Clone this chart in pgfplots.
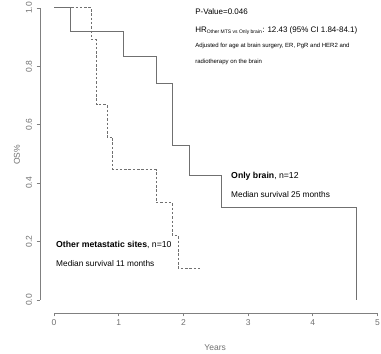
\documentclass[border=0pt]{standalone}
\usepackage{fontspec}
\setmainfont{Liberation Sans}
\usepackage{pgfplots}
\pgfplotsset{compat=1.18}
\definecolor{curve}{HTML}{707070}
\definecolor{axisgray}{HTML}{808080}
\definecolor{ticktext}{HTML}{707070}
\begin{document}
\begin{tikzpicture}
\begin{axis}[
  x=64.7pt, y=292pt,
  xmin=-0.216, xmax=5.054, ymin=-0.0445, ymax=1.027,
  axis x line*=bottom, axis y line*=left,
  axis line style={draw=none},
  clip=false,
  xtick={0,1,2,3,4,5}, ytick={0,0.2,0.4,0.6,0.8,1.0},
  yticklabels={},
  tick align=outside, major tick length=3.5pt,
  every tick/.style={axisgray, line width=0.7pt},
  tick label style={font=\fontsize{8.5}{10}\selectfont, text=ticktext},
  /pgf/number format/assume math mode=true,
  xticklabel style={/pgf/number format/fixed},
  scaled ticks=false,
]
\draw[axisgray, line width=0.7pt] (axis cs:0,-0.0445) -- (axis cs:5,-0.0445);
\draw[axisgray, line width=0.7pt] (axis cs:-0.216,0) -- (axis cs:-0.216,1);
\addplot[const plot, curve, line width=1pt] coordinates {
 (0,1) (0.25,0.919) (1.08,0.833) (1.58,0.742) (1.83,0.528) (2.09,0.425) (2.59,0.317) (4.67,0)
};
\addplot[const plot, curve, line width=1pt, dash pattern=on 2.5pt off 1.8pt] coordinates {
 (0,1) (0.58,0.89) (0.66,0.668) (0.82,0.557) (0.91,0.445) (1.58,0.333) (1.83,0.22) (1.92,0.109) (2.25,0.109)
};
\node[rotate=90, inner sep=0pt, text=ticktext, font=\fontsize{8.5}{10}\selectfont] at (axis cs:-0.386,0) {0.0};
\node[rotate=90, inner sep=0pt, text=ticktext, font=\fontsize{8.5}{10}\selectfont] at (axis cs:-0.386,0.2) {0.2};
\node[rotate=90, inner sep=0pt, text=ticktext, font=\fontsize{8.5}{10}\selectfont] at (axis cs:-0.386,0.4) {0.4};
\node[rotate=90, inner sep=0pt, text=ticktext, font=\fontsize{8.5}{10}\selectfont] at (axis cs:-0.386,0.6) {0.6};
\node[rotate=90, inner sep=0pt, text=ticktext, font=\fontsize{8.5}{10}\selectfont] at (axis cs:-0.386,0.8) {0.8};
\node[rotate=90, inner sep=0pt, text=ticktext, font=\fontsize{8.5}{10}\selectfont] at (axis cs:-0.386,1.0) {1.0};
\node[anchor=west, inner sep=0pt, font=\fontsize{8}{9.6}\selectfont] at (axis cs:2.18,0.986) {P-Value=0.046};
\node[anchor=west, inner sep=0pt, font=\fontsize{8}{9.6}\selectfont] at (axis cs:2.18,0.921) {HR\textsubscript{\fontsize{5}{6}\selectfont Other MTS vs Only brain}: 12.43 (95\% CI 1.84-84.1)};
\node[anchor=west, inner sep=0pt, font=\fontsize{6}{7.2}\selectfont] at (axis cs:2.18,0.870) {Adjusted for age at brain surgery, ER, PgR and HER2 and};
\node[anchor=west, inner sep=0pt, font=\fontsize{6}{7.2}\selectfont] at (axis cs:2.18,0.815) {radiotherapy on the brain};
\node[anchor=west, inner sep=0pt, font=\fontsize{8.7}{10}\selectfont] at (axis cs:2.736,0.425) {\textbf{Only brain}, n=12};
\node[anchor=west, inner sep=0pt, font=\fontsize{8.3}{10}\selectfont] at (axis cs:2.736,0.360) {Median survival 25 months};
\node[anchor=west, inner sep=0pt, font=\fontsize{8.7}{10}\selectfont] at (axis cs:0.031,0.188) {\textbf{Other metastatic sites}, n=10};
\node[anchor=west, inner sep=0pt, font=\fontsize{8.3}{10}\selectfont] at (axis cs:0.031,0.123) {Median survival 11 months};
\node[rotate=90, inner sep=0pt, text=ticktext, font=\fontsize{8.5}{10}\selectfont] at (axis cs:-0.572,0.497) {OS\%};
\node[inner sep=0pt, text=ticktext, font=\fontsize{8.5}{10}\selectfont] at (axis cs:2.49,-0.164) {Years};
\coordinate (bl) at (axis cs:-0.835,-0.185);
\coordinate (tr) at (axis cs:5.054,1.027);
\end{axis}
\pgfresetboundingbox
\path[use as bounding box] (bl) rectangle (tr);
\end{tikzpicture}
\end{document}
